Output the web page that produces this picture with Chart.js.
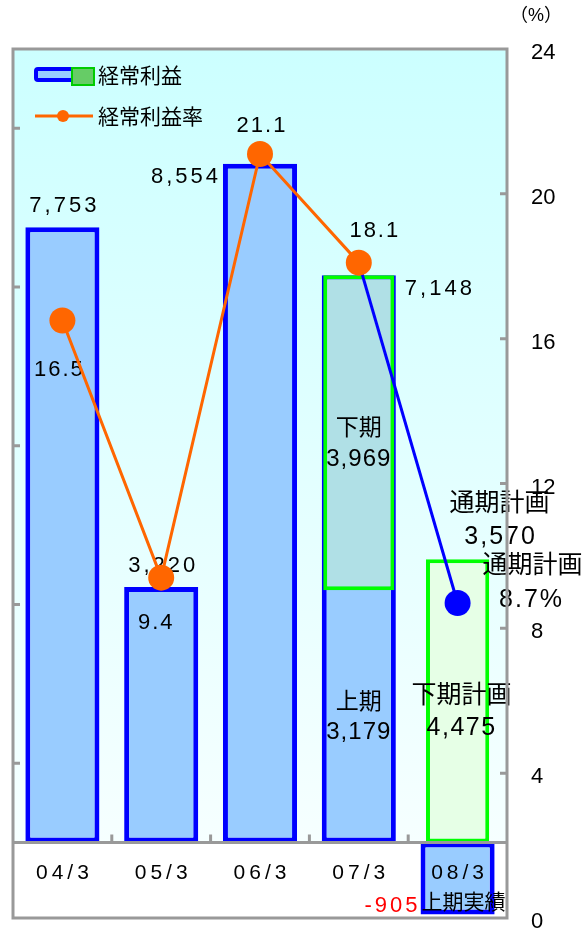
<!DOCTYPE html>
<html>
  <head>
    <title>経常利益</title>
    <script src="https://cdn.jsdelivr.net/npm/chart.js"></script>
    <style>
      body { margin: 0; background: #fff; }
      .chart-container { width: 584px; height: 942px; position: relative; }
    </style>
  </head>
  <body>
    <div class="chart-container">
      <canvas id="profitChart"></canvas>
    </div>
    <script>
      // data
      const categories = ['04/3', '05/3', '06/3', '07/3', '08/3'];
      const ordinaryProfit = [7753, 3220, 8554, 7148, -905];   // 08/3 = 上期実績
      const firstHalf07 = 3179;
      const secondHalf07 = 3969;
      const secondHalfPlan08 = 4475;
      const fullYearPlan08 = 3570;
      const profitRate = [16.5, 9.4, 21.1, 18.1, 8.7];
      const leftTicks = [1000, 3000, 5000, 7000, 9000];
      const rightTicks = [4, 8, 12, 16, 20];

      const FONT = '"Liberation Sans", "Noto Sans CJK JP", sans-serif';
      const fmt = v => v.toLocaleString('en-US');

      function drawText(ctx, str, x, y, size, opts = {}) {
        ctx.save();
        ctx.font = size + 'px ' + FONT;
        ctx.letterSpacing = (opts.ls || 0) + 'px';
        ctx.textAlign = opts.align || 'center';
        ctx.textBaseline = 'middle';
        ctx.fillStyle = opts.color || '#000';
        ctx.fillText(str, x, y);
        ctx.restore();
      }

      const decor = {
        id: 'decor',
        beforeDatasetsDraw(chart) {
          const { ctx, chartArea: a, scales: { y } } = chart;
          const zero = y.getPixelForValue(0);
          const g = ctx.createLinearGradient(0, a.top, 0, zero);
          g.addColorStop(0, '#CCFFFF');
          g.addColorStop(1, '#F6FFFF');
          ctx.save();
          ctx.fillStyle = g;
          ctx.fillRect(a.left, a.top, a.width, zero - a.top);
          ctx.fillStyle = '#fff';
          ctx.fillRect(a.left, zero, a.width, a.bottom - zero);
          ctx.restore();
        },
        beforeDatasetDraw(chart, args) {
          if (args.index !== 3) return;
          const { ctx, chartArea: a, scales: { x, y } } = chart;
          const zero = y.getPixelForValue(0);

          // x axis line and category separators
          ctx.save();
          ctx.strokeStyle = '#999';
          ctx.lineWidth = 3;
          ctx.beginPath();
          ctx.moveTo(a.left, zero);
          ctx.lineTo(a.right, zero);
          for (let i = 0; i < categories.length - 1; i++) {
            const mx = (x.getPixelForValue(i) + x.getPixelForValue(i + 1)) / 2;
            ctx.moveTo(mx, zero);
            ctx.lineTo(mx, zero - 8);
          }
          ctx.stroke();
          ctx.restore();

          categories.forEach((c, i) => drawText(ctx, c, x.getPixelForValue(i) + 2, zero + 31, 21, { ls: 4 }));

          const bars = chart.getDatasetMeta(0).data;
          const mid = chart.getDatasetMeta(1).data[3];
          const plan = chart.getDatasetMeta(2).data[4];
          const pts = chart.getDatasetMeta(3).data;

          // bar value labels
          drawText(ctx, fmt(ordinaryProfit[0]), bars[0].x + 2, bars[0].y - 21, 22, { ls: 3 });
          drawText(ctx, fmt(ordinaryProfit[1]), bars[1].x + 2, bars[1].y - 21, 22, { ls: 3 });
          drawText(ctx, fmt(ordinaryProfit[2]), bars[2].x - bars[2].width / 2 - 2, bars[2].y + 13, 22, { ls: 3, align: 'right' });
          drawText(ctx, fmt(ordinaryProfit[3]), bars[3].x + bars[3].width / 2 + 9, bars[3].y + 14, 22, { ls: 3, align: 'left' });

          // 07/3 halves
          const cMid = (mid.y + mid.base) / 2;
          drawText(ctx, '下期', mid.x, cMid - 4, 23);
          drawText(ctx, fmt(secondHalf07), mid.x, cMid + 27, 24, { ls: 1 });
          const cLow = (mid.base + zero) / 2;
          drawText(ctx, '上期', mid.x, cLow - 14, 23);
          drawText(ctx, fmt(firstHalf07), mid.x, cLow + 16, 24, { ls: 1 });

          // 08/3 plan
          const cPlan = (plan.y + plan.base) / 2;
          drawText(ctx, '下期計画', plan.x + 4, cPlan - 5, 25);
          drawText(ctx, fmt(secondHalfPlan08), plan.x + 4, cPlan + 27, 25, { ls: 1.5 });
          drawText(ctx, '通期計画', plan.x + 42, plan.y - 55, 25);
          drawText(ctx, fmt(fullYearPlan08), plan.x + 43, plan.y - 22, 25, { ls: 2 });

          // 08/3 first half actual
          const neg = bars[4];
          drawText(ctx, fmt(ordinaryProfit[4]), neg.x - neg.width / 2, neg.y - 8, 22, { ls: 3, align: 'right', color: '#FF0000' });
          drawText(ctx, '上期実績', neg.x + 6, neg.y - 11, 21);

          // rate labels
          drawText(ctx, profitRate[0].toFixed(1), pts[0].x - 3, pts[0].y + 49, 22, { ls: 2 });
          drawText(ctx, profitRate[1].toFixed(1), pts[1].x - 5, pts[1].y + 45, 22, { ls: 2 });
          drawText(ctx, profitRate[2].toFixed(1), pts[2].x + 2, pts[2].y - 28, 22, { ls: 2 });
          drawText(ctx, profitRate[3].toFixed(1), pts[3].x + 16, pts[3].y - 32, 22, { ls: 2 });
          drawText(ctx, '通期計画', pts[4].x + 75, pts[4].y - 37, 25);
          drawText(ctx, profitRate[4].toFixed(1) + '%', pts[4].x + 74, pts[4].y - 3, 25, { ls: 2 });
        },
        afterDraw(chart) {
          const { ctx, chartArea: a, scales: { y, y2 } } = chart;
          ctx.save();
          ctx.strokeStyle = '#999';
          ctx.lineWidth = 3;
          ctx.beginPath();
          leftTicks.forEach(v => {
            const py = y.getPixelForValue(v);
            ctx.moveTo(a.left, py);
            ctx.lineTo(a.left + 7, py);
          });
          rightTicks.forEach(v => {
            const py = y2.getPixelForValue(v);
            ctx.moveTo(a.right, py);
            ctx.lineTo(a.right - 7, py);
          });
          ctx.stroke();
          ctx.strokeRect(a.left, a.top, a.width, a.height);

          // legend
          ctx.fillStyle = '#99CCFF';
          ctx.strokeStyle = '#0000FF';
          ctx.lineWidth = 4;
          ctx.beginPath();
          ctx.roundRect(a.left + 23, a.top + 20, 44, 11, 2);
          ctx.fill();
          ctx.stroke();
          ctx.fillStyle = '#66CC66';
          ctx.strokeStyle = '#00CC00';
          ctx.lineWidth = 2;
          ctx.fillRect(a.left + 59, a.top + 19, 22, 17);
          ctx.strokeRect(a.left + 59, a.top + 19, 22, 17);
          ctx.strokeStyle = '#FF6600';
          ctx.lineWidth = 3;
          ctx.beginPath();
          ctx.moveTo(a.left + 22, a.top + 67);
          ctx.lineTo(a.left + 80, a.top + 67);
          ctx.stroke();
          ctx.fillStyle = '#FF6600';
          ctx.beginPath();
          ctx.arc(a.left + 50, a.top + 67, 6, 0, Math.PI * 2);
          ctx.fill();
          ctx.restore();
          drawText(ctx, '経常利益', a.left + 85, a.top + 28, 21, { align: 'left' });
          drawText(ctx, '経常利益率', a.left + 85, a.top + 69, 21, { align: 'left' });

          drawText(ctx, '（%）', 536, 16, 18);
        }
      };

      const blank = categories.map(() => null);
      const midData = blank.slice();
      midData[3] = [firstHalf07, firstHalf07 + secondHalf07];
      const planData = blank.slice();
      planData[4] = [0, fullYearPlan08];
      const pointColors = profitRate.map((v, i) => i === profitRate.length - 1 ? '#0000FF' : '#FF6600');

      new Chart(document.getElementById('profitChart'), {
        type: 'bar',
        data: {
          labels: categories,
          datasets: [
            {
              label: '経常利益',
              data: ordinaryProfit,
              backgroundColor: '#99CCFF',
              borderColor: '#0000FF',
              borderWidth: 5,
              borderSkipped: false,
              barPercentage: 0.75,
              categoryPercentage: 1,
              grouped: false,
              order: 3,
              yAxisID: 'y',
            },
            {
              label: '下期',
              data: midData,
              backgroundColor: '#B0E0E6',
              borderColor: '#00FF00',
              borderWidth: 4,
              borderSkipped: false,
              barPercentage: 0.72,
              categoryPercentage: 1,
              grouped: false,
              order: 2,
              yAxisID: 'y',
            },
            {
              label: '下期計画',
              data: planData,
              backgroundColor: '#E6FFE6',
              borderColor: '#00FF00',
              borderWidth: 4,
              borderSkipped: false,
              barPercentage: 0.64,
              categoryPercentage: 1,
              grouped: false,
              order: 1,
              yAxisID: 'y',
            },
            {
              type: 'line',
              label: '経常利益率',
              data: profitRate,
              borderColor: '#FF6600',
              borderWidth: 3,
              segment: {
                borderColor: c => c.p1DataIndex === profitRate.length - 1 ? '#0000FF' : '#FF6600',
              },
              pointRadius: 13,
              pointHoverRadius: 13,
              pointBorderWidth: 0,
              pointBackgroundColor: pointColors,
              tension: 0,
              fill: false,
              order: 0,
              yAxisID: 'y2',
            }
          ]
        },
        options: {
          responsive: true,
          maintainAspectRatio: false,
          animation: false,
          layout: { padding: { left: 10, top: 49, bottom: 24, right: 0 } },
          plugins: {
            legend: { display: false },
            tooltip: { enabled: false },
          },
          scales: {
            x: { display: false, offset: true },
            y: { display: false, min: -950, max: 10000 },
            y2: {
              position: 'right',
              min: 0,
              max: 24,
              afterFit: s => { s.width = 77; s.paddingTop = 0; s.paddingBottom = 0; },
              grid: { display: false, drawTicks: false },
              border: { display: false },
              ticks: {
                stepSize: 4,
                padding: 24,
                labelOffset: 4,
                color: '#000',
                font: { family: FONT, size: 22 },
              },
            }
          }
        },
        plugins: [decor]
      });
    </script>
  </body>
</html>
